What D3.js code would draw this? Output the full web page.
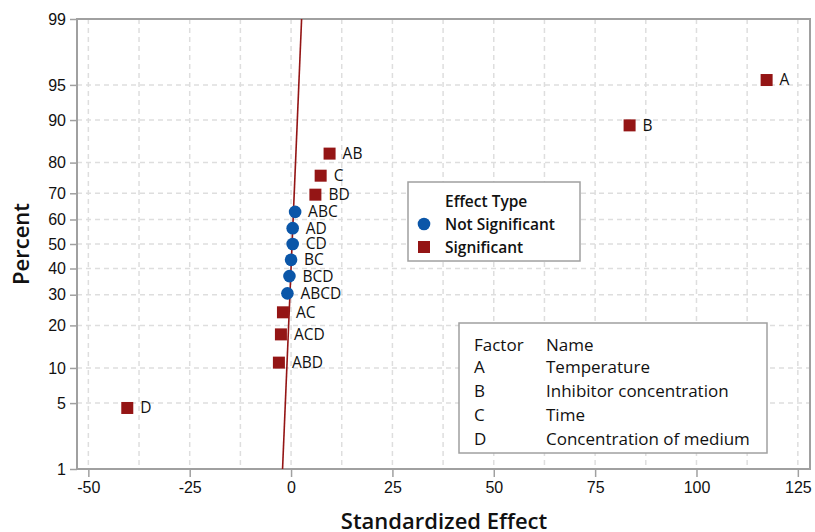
<!DOCTYPE html>
<html>
<head>
<meta charset="utf-8">
<script src="https://cdn.jsdelivr.net/npm/d3@7"></script>
<style>
  body { margin: 0; background: #fff; }
  svg { display: block; font-family: "Open Sans", "Noto Sans", sans-serif; }
</style>
</head>
<body>
<div id="chart"></div>
<script>
// effects, their standardized value and plotted percent
const effects = ["D", "ABD", "ACD", "AC", "ABCD", "BCD", "BC", "CD", "AD", "ABC", "BD", "C", "AB", "B", "A"];
const effectValues = [-40.4, -3.0, -2.5, -2.0, -0.9, -0.4, 0.0, 0.4, 0.4, 1.0, 6.0, 7.3, 9.5, 83.5, 117.3];
const percents = [4.5, 11, 17.5, 24, 30.5, 37, 43.5, 50, 56.5, 63, 69.5, 76, 82.5, 89, 95.5];
const significant = [true, true, true, true, false, false, false, false, false, false, true, true, true, true, true];

// fitted reference line (percent, effect)
const linePercents = [1, 99];
const lineEffects = [-2.1, 2.6];

const xTicks = [-50, -25, 0, 25, 50, 75, 100, 125];
const xGrid = d3.range(-50, 126, 12.5);
const yTicks = [1, 5, 10, 20, 30, 40, 50, 60, 70, 80, 90, 95, 99];

const factorCodes = ["A", "B", "C", "D"];
const factorNames = ["Temperature", "Inhibitor concentration", "Time", "Concentration of medium"];

const width = 815, height = 532;
const margin = {top: 19, right: 5, bottom: 63, left: 77};
const red = "#941515", blue = "#0b56a8";

// inverse normal cdf (Acklam)
function probit(p) {
  const a = [-39.6968302866538, 220.946098424521, -275.928510446969, 138.357751867269, -30.6647980661472, 2.50662827745924];
  const b = [-54.4760987982241, 161.585836858041, -155.698979859887, 66.8013118877197, -13.2806815528857];
  const c = [-0.00778489400243029, -0.322396458041136, -2.40075827716184, -2.54973253934373, 4.37466414146497, 2.93816398269878];
  const d = [0.00778469570904146, 0.32246712907004, 2.445134137143, 3.75440866190742];
  const pl = 0.02425;
  let q, r;
  if (p < pl) {
    q = Math.sqrt(-2 * Math.log(p));
    return (((((c[0]*q+c[1])*q+c[2])*q+c[3])*q+c[4])*q+c[5]) / ((((d[0]*q+d[1])*q+d[2])*q+d[3])*q+1);
  } else if (p <= 1 - pl) {
    q = p - 0.5; r = q * q;
    return (((((a[0]*r+a[1])*r+a[2])*r+a[3])*r+a[4])*r+a[5])*q / (((((b[0]*r+b[1])*r+b[2])*r+b[3])*r+b[4])*r+1);
  } else {
    q = Math.sqrt(-2 * Math.log(1 - p));
    return -(((((c[0]*q+c[1])*q+c[2])*q+c[3])*q+c[4])*q+c[5]) / ((((d[0]*q+d[1])*q+d[2])*q+d[3])*q+1);
  }
}

const x = d3.scaleLinear().domain([-52.8, 128]).range([margin.left, width - margin.right]);
const zScale = d3.scaleLinear().domain([probit(0.01), probit(0.99)]).range([height - margin.bottom, margin.top]);
const y = p => zScale(probit(p / 100));

const svg = d3.select("#chart").append("svg")
    .attr("width", width)
    .attr("height", height);

// grid
svg.append("g")
  .selectAll("line")
  .data(xGrid)
  .join("line")
    .attr("x1", d => x(d)).attr("x2", d => x(d))
    .attr("y1", margin.top).attr("y2", height - margin.bottom)
    .attr("stroke", "#dedede").attr("stroke-width", 1.5).attr("stroke-dasharray", "5,4");

svg.append("g")
  .selectAll("line")
  .data(yTicks.slice(1, -1))
  .join("line")
    .attr("x1", margin.left).attr("x2", width - margin.right)
    .attr("y1", d => y(d)).attr("y2", d => y(d))
    .attr("stroke", "#dedede").attr("stroke-width", 1.5).attr("stroke-dasharray", "5,4");

// axes
const xAxis = svg.append("g")
    .attr("transform", `translate(0,${height - margin.bottom})`)
    .call(d3.axisBottom(x).tickValues(xTicks).tickFormat(d => String(d))
      .tickSize(8).tickSizeOuter(0).tickPadding(5));
const yAxis = svg.append("g")
    .attr("transform", `translate(${margin.left},0)`)
    .call(d3.axisLeft(zScale).tickValues(yTicks.map(p => probit(p / 100)))
      .tickFormat((d, i) => yTicks[i]).tickSize(7).tickSizeOuter(0).tickPadding(4));

[xAxis, yAxis].forEach(g => {
  g.select(".domain").remove();
  g.selectAll(".tick line").attr("stroke", "#a0a0a0").attr("stroke-width", 1.5);
  g.selectAll(".tick text").attr("fill", "#111").style("font-size", "16px");
});

svg.append("rect")
    .attr("x", margin.left).attr("y", margin.top)
    .attr("width", width - margin.right - margin.left)
    .attr("height", height - margin.bottom - margin.top)
    .attr("fill", "none").attr("stroke", "#a0a0a0").attr("stroke-width", 2);

// reference line
svg.append("path")
    .datum(linePercents.map((p, i) => [lineEffects[i], p]))
    .attr("fill", "none").attr("stroke", red).attr("stroke-width", 1.6)
    .attr("d", d3.line().x(d => x(d[0])).y(d => y(d[1])));

// points
const pts = svg.append("g")
  .selectAll("g")
  .data(effects)
  .join("g")
    .attr("transform", (d, i) => `translate(${x(effectValues[i])},${y(percents[i])})`);

pts.filter((d, i) => significant[i]).append("rect")
    .attr("x", -6).attr("y", -6).attr("width", 12).attr("height", 12)
    .attr("fill", red);
pts.filter((d, i) => !significant[i]).append("circle")
    .attr("r", 6.3).attr("fill", blue);

pts.append("text")
    .attr("x", 13).attr("dy", "0.35em")
    .style("font-size", "15.5px").attr("fill", "#111")
    .text(d => d);

// legend: effect type
const lg = svg.append("g").attr("transform", "translate(408,182)");
lg.append("rect").attr("width", 172).attr("height", 79)
    .attr("fill", "#fff").attr("stroke", "#a0a0a0").attr("stroke-width", 1.5);
lg.append("text").attr("x", 37).attr("y", 25).style("font-size", "15.5px").style("font-weight", 600)
    .attr("fill", "#111").text("Effect Type");
lg.append("circle").attr("cx", 16).attr("cy", 42).attr("r", 6.3).attr("fill", blue);
lg.append("rect").attr("x", 10).attr("y", 59).attr("width", 12).attr("height", 12).attr("fill", red);
lg.append("text").attr("x", 37).attr("y", 47.5).style("font-size", "15.5px").style("font-weight", 600)
    .attr("fill", "#111").text("Not Significant");
lg.append("text").attr("x", 37).attr("y", 70.5).style("font-size", "15.5px").style("font-weight", 600)
    .attr("fill", "#111").text("Significant");

// legend: factors
const fg = svg.append("g").attr("transform", "translate(459,323)");
fg.append("rect").attr("width", 308).attr("height", 130)
    .attr("fill", "#fff").attr("stroke", "#a0a0a0").attr("stroke-width", 1.5);
fg.append("text").attr("x", 15).attr("y", 28).style("font-size", "17px").attr("fill", "#111").text("Factor");
fg.append("text").attr("x", 87).attr("y", 28).style("font-size", "17px").attr("fill", "#111").text("Name");
factorCodes.forEach((c, i) => {
  fg.append("text").attr("x", 15).attr("y", 50 + i * 24).style("font-size", "17px")
      .attr("fill", "#111").text(c);
  fg.append("text").attr("x", 87).attr("y", 50 + i * 24).style("font-size", "17px")
      .attr("fill", "#111").text(factorNames[i]);
});

// axis titles
svg.append("text")
    .attr("x", 444).attr("y", 529)
    .attr("text-anchor", "middle").style("font-size", "22px").style("font-weight", 600)
    .attr("fill", "#111").text("Standardized Effect");
svg.append("text")
    .attr("transform", `translate(29,${(margin.top + height - margin.bottom) / 2}) rotate(-90)`)
    .attr("text-anchor", "middle").style("font-size", "22px").style("font-weight", 600)
    .attr("fill", "#111").text("Percent");
</script>
</body>
</html>
